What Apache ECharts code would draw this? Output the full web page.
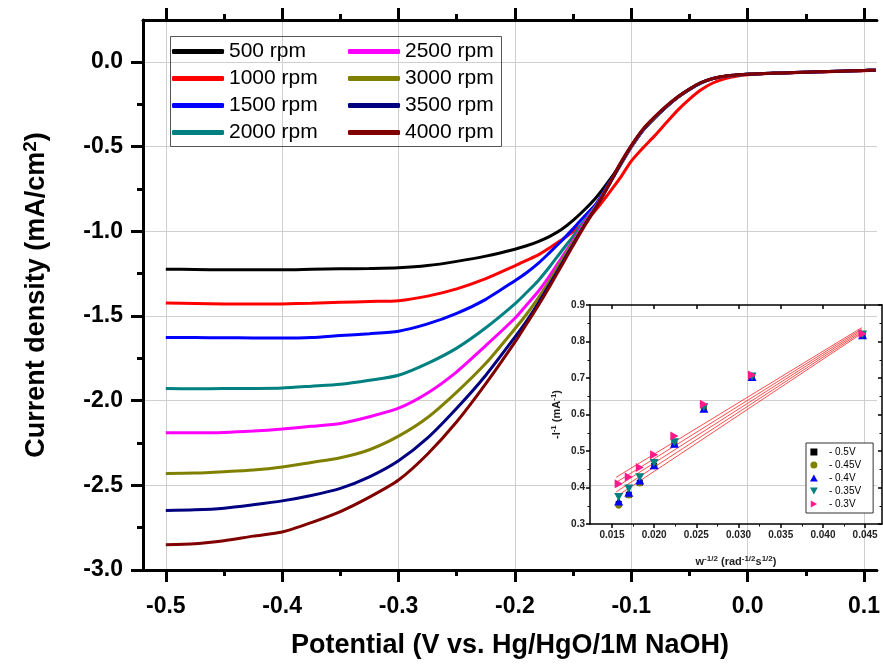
<!DOCTYPE html>
<html><head><meta charset="utf-8">
<script src="https://cdn.jsdelivr.net/npm/echarts@6/dist/echarts.min.js"></script>
<style>html,body{margin:0;padding:0;background:#fff}#c{width:883px;height:664px}</style>
</head><body><div id="c"></div>
<script>
// ---------- main chart data ----------
const potential = [-0.5,-0.475,-0.45,-0.425,-0.4,-0.375,-0.35,-0.325,-0.3,-0.275,-0.25,-0.225,-0.2,-0.19,-0.18,-0.17,-0.16,-0.15,-0.14,-0.13,-0.12,-0.11,-0.1,-0.09,-0.08,-0.07,-0.06,-0.05,-0.04,-0.03,-0.02,-0.01,0,0.02,0.04,0.06,0.08,0.1,0.11];
const rpmNames = ['500 rpm','1000 rpm','1500 rpm','2000 rpm','2500 rpm','3000 rpm','3500 rpm','4000 rpm'];
const rpmColors = ['#000000','#ff0000','#0000ff','#008080','#ff00ff','#808000','#000080','#800000'];
const j500  = [-1.224,-1.226,-1.228,-1.228,-1.228,-1.225,-1.222,-1.220,-1.216,-1.203,-1.178,-1.147,-1.106,-1.086,-1.061,-1.030,-0.990,-0.936,-0.872,-0.799,-0.710,-0.612,-0.503,-0.405,-0.332,-0.267,-0.210,-0.163,-0.124,-0.099,-0.086,-0.079,-0.073,-0.068,-0.063,-0.059,-0.055,-0.051,-0.049];
const j1000 = [-1.424,-1.426,-1.429,-1.430,-1.429,-1.425,-1.420,-1.415,-1.410,-1.383,-1.340,-1.280,-1.204,-1.172,-1.140,-1.097,-1.052,-1.002,-0.945,-0.870,-0.782,-0.690,-0.586,-0.508,-0.437,-0.360,-0.285,-0.220,-0.165,-0.125,-0.100,-0.085,-0.076,-0.069,-0.064,-0.060,-0.056,-0.052,-0.050];
const j1500 = [-1.627,-1.628,-1.629,-1.630,-1.631,-1.628,-1.616,-1.605,-1.590,-1.547,-1.485,-1.402,-1.292,-1.245,-1.190,-1.125,-1.058,-0.985,-0.910,-0.835,-0.725,-0.615,-0.503,-0.405,-0.332,-0.267,-0.210,-0.163,-0.124,-0.099,-0.086,-0.079,-0.073,-0.068,-0.063,-0.059,-0.055,-0.051,-0.049];
const j2000 = [-1.929,-1.930,-1.929,-1.928,-1.925,-1.915,-1.904,-1.880,-1.850,-1.780,-1.690,-1.570,-1.429,-1.362,-1.292,-1.208,-1.118,-1.030,-0.935,-0.845,-0.730,-0.617,-0.503,-0.404,-0.331,-0.266,-0.209,-0.162,-0.124,-0.099,-0.086,-0.079,-0.073,-0.068,-0.063,-0.059,-0.055,-0.051,-0.049];
const j2500 = [-2.190,-2.190,-2.188,-2.180,-2.168,-2.152,-2.135,-2.095,-2.045,-1.955,-1.830,-1.675,-1.514,-1.435,-1.356,-1.262,-1.158,-1.055,-0.945,-0.848,-0.733,-0.617,-0.502,-0.403,-0.330,-0.265,-0.209,-0.162,-0.123,-0.099,-0.086,-0.079,-0.073,-0.068,-0.063,-0.059,-0.055,-0.051,-0.049];
const j3000 = [-2.430,-2.428,-2.420,-2.410,-2.392,-2.365,-2.337,-2.290,-2.210,-2.100,-1.950,-1.780,-1.576,-1.490,-1.395,-1.290,-1.175,-1.065,-0.955,-0.852,-0.735,-0.616,-0.500,-0.402,-0.329,-0.264,-0.208,-0.161,-0.123,-0.099,-0.086,-0.079,-0.073,-0.068,-0.063,-0.059,-0.055,-0.051,-0.049];
const j3500 = [-2.649,-2.645,-2.635,-2.615,-2.592,-2.560,-2.518,-2.450,-2.355,-2.220,-2.045,-1.850,-1.625,-1.530,-1.425,-1.312,-1.195,-1.078,-0.962,-0.855,-0.738,-0.612,-0.497,-0.400,-0.327,-0.263,-0.207,-0.161,-0.123,-0.098,-0.085,-0.078,-0.073,-0.068,-0.063,-0.059,-0.055,-0.051,-0.049];
const j4000 = [-2.851,-2.845,-2.827,-2.800,-2.776,-2.720,-2.655,-2.570,-2.469,-2.315,-2.125,-1.900,-1.655,-1.548,-1.440,-1.325,-1.205,-1.085,-0.968,-0.858,-0.735,-0.605,-0.493,-0.397,-0.325,-0.261,-0.206,-0.160,-0.122,-0.098,-0.085,-0.078,-0.073,-0.068,-0.063,-0.059,-0.055,-0.051,-0.049];
const currentSets = [j500,j1000,j1500,j2000,j2500,j3000,j3500,j4000];
const xMajorTicks = [-0.5,-0.4,-0.3,-0.2,-0.1,0.0,0.1];
const xMinorTicks = [-0.45,-0.35,-0.25,-0.15,-0.05,0.05];
const yMajorTicks = [-3.0,-2.5,-2.0,-1.5,-1.0,-0.5,0.0];
const yMinorTicks = [-2.75,-2.25,-1.75,-1.25,-0.75,-0.25];

// ---------- inset (Koutecky-Levich) data ----------
const invSqrtW = [0.0158,0.0170,0.0183,0.0200,0.0224,0.0259,0.0316,0.0447];
const klNames = ['- 0.5V','- 0.45V','- 0.4V','- 0.35V','- 0.3V'];
const kl05  = [0.355,0.380,0.413,0.459,0.519,0.617,0.702,0.817];
const kl045 = [0.350,0.378,0.411,0.458,0.518,0.617,0.701,0.816];
const kl04  = [0.362,0.386,0.419,0.461,0.520,0.616,0.703,0.817];
const kl035 = [0.374,0.397,0.428,0.467,0.524,0.620,0.704,0.819];
const kl03  = [0.410,0.429,0.455,0.490,0.541,0.628,0.708,0.821];
const klSets = [kl05,kl045,kl04,kl035,kl03];
const fitX = [0.0155,0.0446];
const fit05 = [0.375,0.822], fit045 = [0.388,0.826], fit04 = [0.401,0.830], fit035 = [0.414,0.834], fit03 = [0.428,0.838];
const fitSets = [fit05,fit045,fit04,fit035,fit03];
const insetXMajor = [0.015,0.020,0.025,0.030,0.035,0.040,0.045];
const insetXMinor = [0.0175,0.0225,0.0275,0.0325,0.0375,0.0425];

// ---------- styles ----------
const FONT = '"Liberation Sans", Arial, Helvetica, sans-serif';
const X_MIN = -0.5196, X_MAX = 0.1111, Y_MIN = -3.0, Y_MAX = 0.247;
const IX_MIN = 0.0124, IX_MAX = 0.0470;
const klSymbols = ['path://M0,0h10v10h-10z','circle','path://M5,0L10,9L0,9Z','path://M0,0L10,0L5,9Z','path://M0,0L9,5L0,10Z'];
const klColors = ['#000000','#808000','#0000ff','#008080','#ff1a8c'];
const klSizes = [6,6,9,9,9];

const zip = (xs, ys) => xs.map((x,i) => [x, ys[i]]);
function tickAxis(base){ return Object.assign({type:'value', axisLabel:{show:false}, splitLine:{show:false}}, base); }

const xAxes = [
  {type:'value', gridIndex:0, position:'bottom', min:X_MIN, max:X_MAX,
   axisLine:{show:true,onZero:false,lineStyle:{color:'#000',width:3}},
   axisTick:{show:true,inside:false,length:12,customValues:xMajorTicks,lineStyle:{color:'#000',width:3}},
   axisLabel:{customValues:xMajorTicks, formatter:v=>v.toFixed(1), fontSize:23, fontWeight:'bold', color:'#000', fontFamily:FONT, margin:25},
   splitLine:{show:true,lineStyle:{color:'#cfcfcf',width:1}},
   name:'Potential (V vs. Hg/HgO/1M NaOH)', nameLocation:'middle', nameGap:62,
   nameTextStyle:{fontSize:27, fontWeight:'bold', color:'#000', fontFamily:FONT}},
  tickAxis({gridIndex:0, position:'bottom', min:X_MIN, max:X_MAX, axisLine:{show:false,onZero:false},
   axisTick:{show:true,inside:false,length:6,customValues:xMinorTicks,lineStyle:{color:'#000',width:3}}}),
  tickAxis({gridIndex:0, position:'top', min:X_MIN, max:X_MAX, axisLine:{show:true,onZero:false,lineStyle:{color:'#000',width:3}},
   axisTick:{show:true,inside:false,length:12,customValues:xMajorTicks,lineStyle:{color:'#000',width:3}}}),
  tickAxis({gridIndex:0, position:'top', min:X_MIN, max:X_MAX, axisLine:{show:false,onZero:false},
   axisTick:{show:true,inside:false,length:6,customValues:xMinorTicks,lineStyle:{color:'#000',width:3}}}),
  {type:'value', gridIndex:1, position:'bottom', min:IX_MIN, max:IX_MAX,
   axisLine:{show:true,onZero:false,lineStyle:{color:'#000',width:1.5}},
   axisTick:{show:true,inside:false,length:4,customValues:insetXMajor,lineStyle:{color:'#000',width:1.5}},
   axisLabel:{customValues:insetXMajor, formatter:v=>v.toFixed(3), fontSize:10, fontWeight:'bold', color:'#222', fontFamily:FONT, margin:6},
   splitLine:{show:false},
   name:'w{s|-1/2} (rad{s|-1/2}s{s|1/2})', nameLocation:'middle', nameGap:45,
   nameTextStyle:{fontSize:11, fontWeight:'bold', color:'#222', fontFamily:FONT, verticalAlign:'bottom',
     rich:{s:{fontSize:8, fontWeight:'bold', color:'#222', fontFamily:FONT, verticalAlign:'bottom', padding:[0,0,6,0]}}}},
  tickAxis({gridIndex:1, position:'bottom', min:IX_MIN, max:IX_MAX, axisLine:{show:false,onZero:false},
   axisTick:{show:true,inside:false,length:2.5,customValues:insetXMinor,lineStyle:{color:'#000',width:1}}}),
  tickAxis({gridIndex:1, position:'top', min:IX_MIN, max:IX_MAX, axisLine:{show:true,onZero:false,lineStyle:{color:'#000',width:1.5}},
   axisTick:{show:true,inside:true,length:4,customValues:insetXMajor,lineStyle:{color:'#000',width:1.5}}})
];

const yAxes = [
  {type:'value', gridIndex:0, position:'left', min:Y_MIN, max:Y_MAX,
   axisLine:{show:true,onZero:false,lineStyle:{color:'#000',width:3}},
   axisTick:{show:true,inside:false,length:12,customValues:yMajorTicks,lineStyle:{color:'#000',width:3}},
   axisLabel:{customValues:yMajorTicks, formatter:v=>v.toFixed(1), fontSize:23, fontWeight:'bold', color:'#000', fontFamily:FONT, margin:20},
   splitLine:{show:true,lineStyle:{color:'#cfcfcf',width:1}},
   name:'Current density (mA/cm{s|2})', nameLocation:'middle', nameGap:90, nameRotate:90,
   nameTextStyle:{fontSize:27, fontWeight:'bold', color:'#000', fontFamily:FONT, verticalAlign:'bottom',
     rich:{s:{fontSize:19, fontWeight:'bold', color:'#000', fontFamily:FONT, verticalAlign:'bottom', padding:[0,0,13,0]}}}},
  tickAxis({gridIndex:0, position:'left', min:Y_MIN, max:Y_MAX, axisLine:{show:false,onZero:false},
   axisTick:{show:true,inside:false,length:6,customValues:yMinorTicks,lineStyle:{color:'#000',width:3}}}),
  {type:'value', gridIndex:1, position:'left', min:0.3, max:0.9, interval:0.1,
   axisLine:{show:true,onZero:false,lineStyle:{color:'#000',width:1.5}},
   axisTick:{show:true,inside:false,length:4,lineStyle:{color:'#000',width:1.5}},
   minorTick:{show:true,splitNumber:2,length:2.5,lineStyle:{color:'#000',width:1}},
   axisLabel:{formatter:v=>v.toFixed(1), fontSize:10, fontWeight:'bold', color:'#222', fontFamily:FONT, margin:5},
   splitLine:{show:false},
   name:'-I{s|-1} (mA{s|-1})', nameLocation:'middle', nameGap:26, nameRotate:90,
   nameTextStyle:{fontSize:11, fontWeight:'bold', color:'#222', fontFamily:FONT, verticalAlign:'bottom',
     rich:{s:{fontSize:8, fontWeight:'bold', color:'#222', fontFamily:FONT, verticalAlign:'bottom', padding:[0,0,6,0]}}}},
  tickAxis({gridIndex:1, position:'right', min:0.3, max:0.9, interval:0.1,
   axisLine:{show:true,onZero:false,lineStyle:{color:'#000',width:1.5}},
   axisTick:{show:true,inside:true,length:4,lineStyle:{color:'#000',width:1.5}},
   minorTick:{show:true,splitNumber:2,length:2.5,lineStyle:{color:'#000',width:1}}})
];

const series = [];
currentSets.forEach((ys, i) => {
  series.push({type:'line', name:rpmNames[i], xAxisIndex:0, yAxisIndex:0, data:zip(potential, ys),
    showSymbol:false, symbol:'none', smooth:0.25, lineStyle:{color:rpmColors[i], width:3}, itemStyle:{color:rpmColors[i]}, z:2+i});
});
fitSets.forEach((ys, i) => {
  series.push({type:'line', name:'fit'+i, xAxisIndex:4, yAxisIndex:2, data:zip(fitX, ys),
    showSymbol:false, symbol:'none', lineStyle:{color:'#ff2020', width:0.8}, z:20});
});
klSets.forEach((ys, i) => {
  series.push({type:'scatter', name:klNames[i], xAxisIndex:4, yAxisIndex:2, data:zip(invSqrtW, ys),
    symbol:klSymbols[i], symbolSize:klSizes[i], symbolKeepAspect:true, itemStyle:{color:klColors[i], opacity:1}, z:30});
});

const legendOrder = [0,4,1,5,2,6,3,7].map(i => rpmNames[i]);

const option = {
  animation:false,
  backgroundColor:'#ffffff',
  grid:[
    {left:143, top:20, right:0, bottom:92},
    {left:590, top:305, right:1, bottom:140}
  ],
  xAxis:xAxes,
  yAxis:yAxes,
  legend:[
    {data:legendOrder, orient:'horizontal', left:172, top:41, width:400, padding:0,
     itemWidth:52, itemHeight:5, itemGap:6, icon:'roundRect', selectedMode:false,
     textStyle:{fontSize:21, fontFamily:FONT, color:'#000', width:113, lineHeight:21}},
    {data:klNames, orient:'vertical', left:806, top:443, padding:[3,12,3,4],
     itemWidth:20, itemHeight:7, itemGap:1, selectedMode:false, symbolKeepAspect:true,
     borderColor:'#333', borderWidth:1, backgroundColor:'#fff',
     itemStyle:{opacity:1},
     textStyle:{fontSize:10, fontFamily:FONT, color:'#000', lineHeight:12}}
  ],
  graphic:[
    {type:'rect', shape:{x:170.5, y:36.5, width:331, height:110}, style:{fill:'none', stroke:'#555', lineWidth:1}, z:100}
  ],
  series:series
};
const chart = echarts.init(document.getElementById('c'));
chart.setOption(option);
</script>
</body></html>
